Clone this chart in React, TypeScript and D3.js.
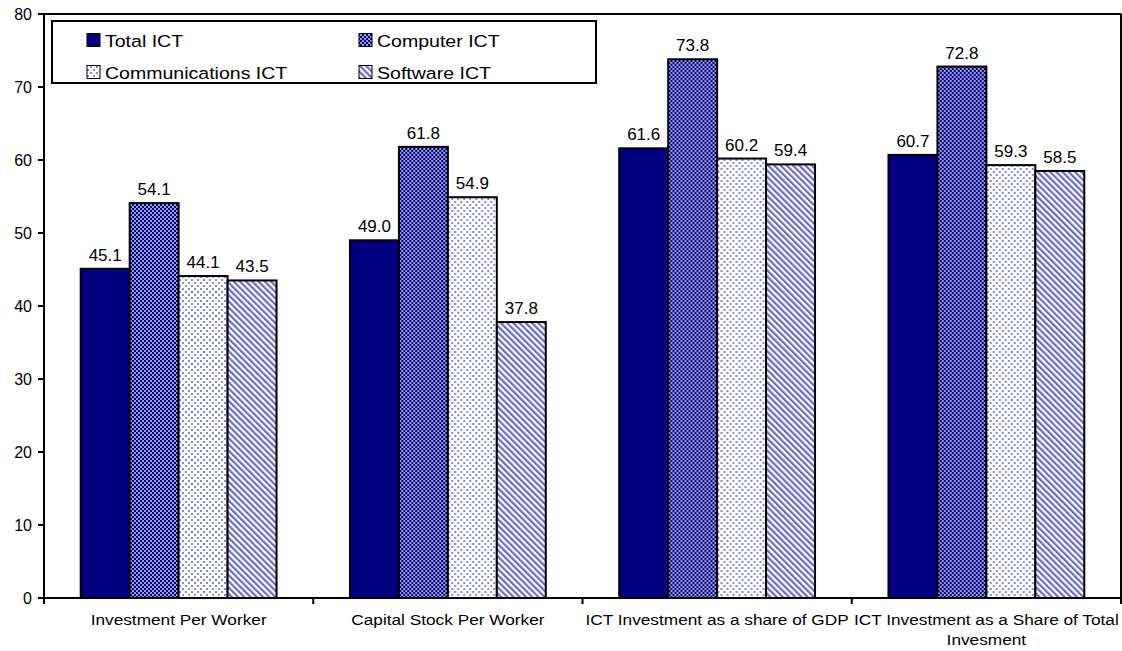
import React from "react";
import * as d3 from "d3";

const categories = [
  ["Investment Per Worker"],
  ["Capital Stock Per Worker"],
  ["ICT Investment as a share of GDP"],
  ["ICT Investment as a Share of Total", "Invesment"],
];
const seriesNames = ["Total ICT", "Computer ICT", "Communications ICT", "Software ICT"];
const totalICT = [45.1, 49.0, 61.6, 60.7];
const computerICT = [54.1, 61.8, 73.8, 72.8];
const communicationsICT = [44.1, 54.9, 60.2, 59.3];
const softwareICT = [43.5, 37.8, 59.4, 58.5];
const yTicks = [0, 10, 20, 30, 40, 50, 60, 70, 80];

const seriesValues = [totalICT, computerICT, communicationsICT, softwareICT];
const fills = ["#000080", "url(#pComp)", "url(#pComm)", "url(#pSoft)"];

export default function App() {
  const W = 1122, H = 651;
  const left = 44, right = 1121, top = 14, bottom = 598;
  const y = d3.scaleLinear().domain([0, 80]).range([bottom, top]);
  const catKeys = categories.map((c, i) => String(i));
  const x0 = d3.scaleBand().domain(catKeys).range([left, right]).padding(0);
  const bw = x0.bandwidth();
  const barW = bw / 5.5;
  const x1 = d3.scaleBand().domain(seriesNames).range([barW * 0.75, bw - barW * 0.75]).padding(0);
  const font = "'Liberation Sans', Arial, sans-serif";
  const sx = 1.15;

  const legendItems = [
    { name: seriesNames[0], fill: fills[0], x: 87, y: 47 },
    { name: seriesNames[1], fill: fills[1], x: 359, y: 47 },
    { name: seriesNames[2], fill: fills[2], x: 87, y: 79 },
    { name: seriesNames[3], fill: fills[3], x: 359, y: 79 },
  ];

  return (
    <svg width={W} height={H} style={{ position: "absolute", left: 0, top: 0, background: "#fff" }} fontFamily={font}>
      <defs>
        <pattern id="pComp" patternUnits="userSpaceOnUse" width={4} height={4}>
          <rect width={4} height={4} fill="#9c9cd8" />
          <rect x={0} y={0} width={2} height={2} fill="#000080" />
          <rect x={2} y={2} width={2} height={2} fill="#000080" />
        </pattern>
        <pattern id="pComm" patternUnits="userSpaceOnUse" width={6} height={6}>
          <rect width={6} height={6} fill="#ffffff" />
          <rect x={0} y={0} width={2} height={2} fill="#8a8ad4" />
          <rect x={3} y={3} width={2} height={2} fill="#8a8ad4" />
        </pattern>
        <pattern id="pSoft" patternUnits="userSpaceOnUse" width={4.4} height={8} patternTransform="rotate(-45)">
          <rect width={4.4} height={8} fill="#ffffff" />
          <rect x={0} y={0} width={2.2} height={8} fill="#6a6ac8" />
        </pattern>
      </defs>

      {/* plot area border top/right */}
      <line x1={left} x2={right} y1={top} y2={top} stroke="#000" strokeWidth={2} />
      <line x1={right} x2={right} y1={top} y2={bottom} stroke="#000" strokeWidth={2} />

      {/* bars */}
      {catKeys.map((k, ci) => (
        <g key={k} transform={`translate(${x0(k)},0)`}>
          {seriesNames.map((s, si) => {
            const v = seriesValues[si][ci];
            const bx = x1(s)!;
            return (
              <g key={s}>
                <rect x={bx} y={y(v)} width={x1.bandwidth()} height={bottom - y(v)} fill={fills[si]} stroke="#000" strokeWidth={2} />
                <text x={bx + x1.bandwidth() / 2} y={y(v) - 8} textAnchor="middle" fontSize={17} fill="#000">
                  {v.toFixed(1)}
                </text>
              </g>
            );
          })}
        </g>
      ))}

      {/* y axis */}
      <line x1={left} x2={left} y1={top} y2={bottom} stroke="#000" strokeWidth={2} />
      {yTicks.map((t) => (
        <g key={t}>
          <line x1={left - 6} x2={left} y1={y(t)} y2={y(t)} stroke="#000" strokeWidth={2} />
          <text x={left - 12} y={y(t) + 6} textAnchor="end" fontSize={16} fill="#000">{t}</text>
        </g>
      ))}

      {/* x axis */}
      <line x1={left} x2={right} y1={bottom} y2={bottom} stroke="#000" strokeWidth={2} />
      {[...catKeys.map((k) => x0(k)!), right].map((tx, i) => (
        <line key={i} x1={tx} x2={tx} y1={bottom} y2={bottom + 6} stroke="#000" strokeWidth={2} />
      ))}
      {categories.map((lines, i) => (
        <g key={i} transform={`translate(${x0(String(i))! + bw / 2},625) scale(${sx},1)`}>
          <text x={0} y={0} textAnchor="middle" fontSize={15} fill="#000">
            {lines.map((ln, j) => (
              <tspan key={j} x={0} dy={j === 0 ? 0 : 20}>{ln}</tspan>
            ))}
          </text>
        </g>
      ))}

      {/* legend */}
      <rect x={52} y={21} width={544} height={62} fill="#fff" stroke="#000" strokeWidth={2} />
      {legendItems.map((it) => (
        <g key={it.name}>
          <rect x={it.x} y={it.y - 13.5} width={13} height={13} fill={it.fill} stroke="#000" strokeWidth={1} />
          <g transform={`translate(${it.x + 18},${it.y}) scale(${sx},1)`}>
            <text x={0} y={0} fontSize={17} fill="#000">{it.name}</text>
          </g>
        </g>
      ))}
    </svg>
  );
}
